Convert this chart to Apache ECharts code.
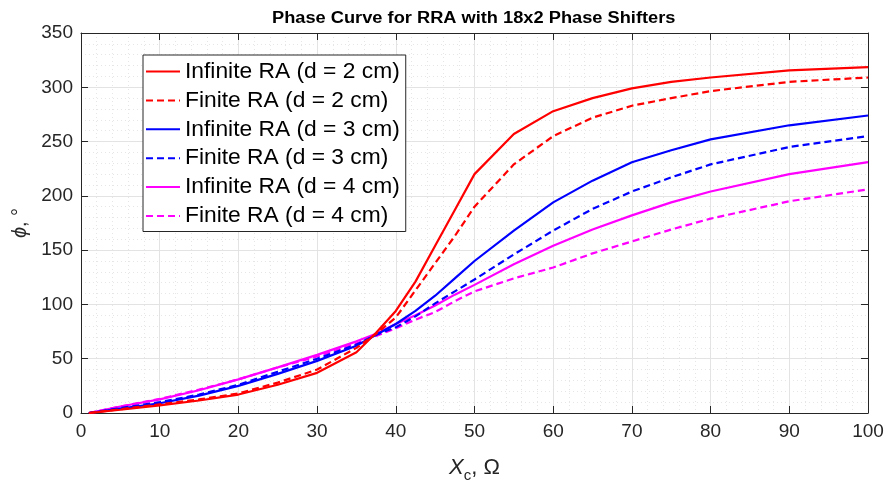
<!DOCTYPE html>
<html><head><meta charset="utf-8">
<script src="https://cdn.jsdelivr.net/npm/echarts@6/dist/echarts.min.js"></script>
<style>html,body{margin:0;padding:0;background:#fff}#c{width:889px;height:488px}</style>
</head><body><div id="c"></div>
<script>
const titleText = 'Phase Curve for RRA with 18x2 Phase Shifters';
const xc = [1, 5, 10, 15, 20, 25, 30, 35, 37.5, 40, 42.5, 45, 47.5, 50, 55, 60, 65, 70, 75, 80, 90, 100];
const infD2 = [0, 3, 7, 11.5, 17, 26, 37, 56, 74, 94, 121, 154, 187, 220, 257, 278, 290, 299, 305, 309, 315.5, 318.5];
const finD2 = [0, 3.5, 8, 12.5, 18, 28, 40, 60, 73, 88, 113, 138, 163, 190, 229, 255, 272, 283, 290, 296.5, 305, 309];
const infD3 = [0, 4, 9, 16, 25, 36, 48, 62, 72, 82, 94, 108, 124, 140, 168, 194, 214, 231, 242, 252, 265, 274];
const finD3 = [0, 4.5, 10, 17, 26, 38, 50, 63, 72, 79, 89, 101, 112, 123, 146, 168, 188, 204, 217, 229, 245, 255];
const infD4 = [0, 6, 12.5, 21, 31, 42, 53.5, 66, 73, 82, 90, 99, 109, 118, 137, 154, 169, 182, 194, 204, 220, 231];
const finD4 = [0, 6, 13, 21.5, 31, 42, 52, 64, 71, 78, 86, 93, 103, 112, 124, 134, 147, 158, 169, 179, 195, 206];
const seriesNames = ['Infinite RA (d = 2 cm)', 'Finite RA (d = 2 cm)', 'Infinite RA (d = 3 cm)', 'Finite RA (d = 3 cm)', 'Infinite RA (d = 4 cm)', 'Finite RA (d = 4 cm)'];
const seriesValues = [infD2, finD2, infD3, finD3, infD4, finD4];
const seriesColors = ['#ff0000', '#ff0000', '#0000ff', '#0000ff', '#ff00ff', '#ff00ff'];
const seriesDashed = [false, true, false, true, false, true];

const FONT = 'Liberation Sans, Arial, Helvetica, sans-serif';
const AX = '#262626';
const chart = echarts.init(document.getElementById('c'), null, {renderer: 'canvas'});

const series = seriesNames.map((n, i) => ({
  name: n,
  type: 'line',
  xAxisIndex: 0, yAxisIndex: 0,
  data: xc.map((x, k) => [x, seriesValues[i][k]]),
  showSymbol: false,
  symbol: 'circle',
  symbolSize: 0,
  smooth: false,
  animation: false,
  lineStyle: {color: seriesColors[i], width: 2.2, type: seriesDashed[i] ? [7, 4] : 'solid'},
  itemStyle: {color: seriesColors[i]},
  z: 10 - i
}));

const gridLine = {show: true, lineStyle: {color: '#e3e3e3', width: 1}};
const minorLine = {show: true, lineStyle: {color: '#e6e6e6', width: 1, type: [1, 3]}};

chart.setOption({
  animation: false,
  backgroundColor: '#ffffff',
  graphic: [{
    type: 'text', x: 272, y: 11,
    style: {text: titleText, font: 'bold 16px ' + FONT, fill: '#000', textAlign: 'left', textVerticalAlign: 'top'},
    scaleX: 1.14, scaleY: 1
  }],
  grid: {left: 81, right: 21, top: 33, bottom: 67, containLabel: false},
  legend: {
    data: seriesNames,
    orient: 'vertical', left: 143, top: 55,
    itemWidth: 34, itemHeight: 14, itemGap: 5.9,
    padding: [5, 6, 4, 2],
    backgroundColor: '#ffffff', borderColor: AX, borderWidth: 1, borderRadius: 0,
    itemStyle: {opacity: 0, borderWidth: 0},
    textStyle: {fontFamily: FONT, fontSize: 22.8, color: '#000', lineHeight: 22},
    selectedMode: false
  },
  xAxis: [{
    type: 'value', min: 0, max: 100, interval: 10,
    name: '{i|X}{s|c}{n|, Ω}', nameLocation: 'middle', nameGap: 40,
    nameTextStyle: {rich: {
      i: {fontFamily: FONT, fontSize: 22, fontStyle: 'italic', color: AX, lineHeight: 30, verticalAlign: 'middle'},
      s: {fontFamily: FONT, fontSize: 15, color: AX, lineHeight: 30, verticalAlign: 'bottom', padding: [14, 0, 0, 0]},
      n: {fontFamily: FONT, fontSize: 22, color: AX, lineHeight: 30, verticalAlign: 'middle'}
    }},
    axisLine: {show: true, onZero: false, lineStyle: {color: AX, width: 1}},
    axisTick: {show: true, inside: true, length: 7, lineStyle: {color: AX}},
    axisLabel: {fontFamily: FONT, fontSize: 19, color: AX, margin: 9},
    splitLine: gridLine,
    minorTick: {show: false, splitNumber: 5},
    minorSplitLine: minorLine
  }, {
    type: 'value', position: 'top', min: 0, max: 100, interval: 10,
    axisLine: {show: true, onZero: false, lineStyle: {color: AX, width: 1}},
    axisTick: {show: true, inside: true, length: 7, lineStyle: {color: AX}},
    axisLabel: {show: false}, splitLine: {show: false}
  }],
  yAxis: [{
    type: 'value', min: 0, max: 350, interval: 50,
    name: '{i|ϕ}{n|, °}', nameLocation: 'middle', nameGap: 48, nameRotate: 90,
    nameTextStyle: {rich: {
      i: {fontFamily: FONT, fontSize: 20, fontStyle: 'italic', color: AX},
      n: {fontFamily: FONT, fontSize: 20, color: AX}
    }},
    axisLine: {show: true, onZero: false, lineStyle: {color: AX, width: 1}},
    axisTick: {show: true, inside: true, length: 7, lineStyle: {color: AX}},
    axisLabel: {fontFamily: FONT, fontSize: 19, color: AX, margin: 8},
    splitLine: gridLine,
    minorTick: {show: false, splitNumber: 5},
    minorSplitLine: minorLine
  }, {
    type: 'value', position: 'right', min: 0, max: 350, interval: 50,
    axisLine: {show: true, onZero: false, lineStyle: {color: AX, width: 1}},
    axisTick: {show: true, inside: true, length: 7, lineStyle: {color: AX}},
    axisLabel: {show: false}, splitLine: {show: false}
  }],
  series: series
});
</script>
</body></html>
